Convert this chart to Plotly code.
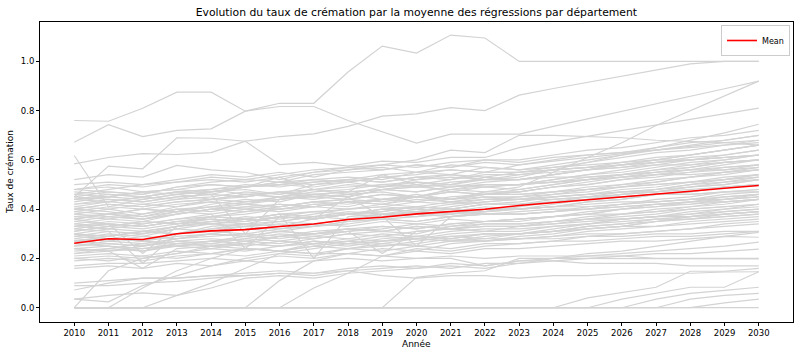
import plotly.graph_objects as go

years = [2010, 2011, 2012, 2013, 2014, 2015, 2016, 2017, 2018, 2019, 2020,
         2021, 2022, 2023, 2024, 2025, 2026, 2027, 2028, 2029, 2030]

mean_values = [.262, .28, .277, .30, .312, .317, .33, .34, .358, .367, .381,
               .39, .40, .415, .426, .438, .45, .461, .473, .485, .496]

# --- upper outliers ---
dep_a = [.76, .757, .81, .875, .875, .798, .817, .817, .76, .713, .668, .705, .705, .705, .736, .766, .797, .828, .859, .889, .92]
dep_b = [.672, .743, .695, .72, .726, .798, .83, .83, .957, 1.062, 1.034, 1.107, 1.095, 1.0, 1.0, 1.0, 1.0, 1.0, 1.0, 1.0, 1.0]
dep_c = [.584, .61, .626, .622, .63, .676, .695, .706, .736, .778, .787, .812, .80, .863, .89, .915, .94, .965, .99, 1.0, 1.0]
dep_e = [.40, .42, .41, .43, .44, .43, .45, .44, .46, .47, .45, .48, .47, .49, .55, .61, .67, .74, .80, .86, .92]
dep_g = [.44, .45, .47, .46, .48, .50, .49, .51, .52, .51, .53, .54, .52, .53, .56, .59, .62, .65, .68, .71, .745]
dep_h = [.45, .575, .564, .69, .688, .676, .581, .59, .575, .595, .59, .61, .61, .65, .673, .696, .719, .741, .764, .787, .81]
dep_i = [.618, .41, .44, .46, .47, .48, .46, .50, .51, .49, .52, .53, .52, .54, .56, .57, .59, .61, .62, .64, .66]
dep_j = [.52, .54, .53, .578, .56, .55, .52, .55, .57, .56, .58, .57, .60, .59, .61, .62, .63, .64, .65, .66, .67]
dep_k = [.48, .50, .49, .51, .53, .52, .54, .56, .57, .58, .60, .64, .63, .70, .70, .695, .69, .68, .675, .67, .66]
dep_l = [.50, .51, .50, .52, .54, .53, .55, .53, .56, .57, .55, .58, .57, .56, .57, .58, .59, .60, .60, .61, .62]

# --- main band ---
b01 = [.48, .47, .46, .49, .50, .49, .51, .52, .53, .52, .55, .56, .55, .58, .595, .61, .625, .64, .655, .67, .68]
b02 = [.47, .46, .45, .47, .48, .49, .50, .49, .51, .53, .52, .54, .53, .55, .56, .57, .58, .59, .60, .61, .62]
b03 = [.46, .48, .50, .51, .52, .51, .53, .55, .56, .58, .57, .59, .60, .60, .62, .64, .65, .67, .69, .70, .72]
b04 = [.45, .44, .43, .45, .46, .45, .47, .46, .47, .48, .49, .48, .50, .50, .51, .52, .53, .54, .54, .55, .56]
b05 = [.44, .43, .42, .44, .45, .47, .46, .48, .49, .50, .51, .50, .53, .52, .54, .56, .58, .60, .62, .64, .66]
b06 = [.43, .45, .44, .46, .44, .45, .47, .48, .46, .49, .50, .47, .49, .48, .50, .52, .54, .55, .57, .59, .60]
b07 = [.42, .43, .45, .44, .47, .49, .50, .51, .52, .54, .55, .54, .57, .56, .58, .60, .62, .64, .66, .68, .70]
b08 = [.41, .40, .38, .41, .43, .42, .44, .45, .44, .46, .45, .47, .46, .47, .49, .50, .52, .54, .55, .57, .58]
b09 = [.40, .42, .41, .43, .44, .46, .45, .47, .48, .50, .49, .51, .52, .52, .54, .56, .57, .59, .61, .62, .64]
b10 = [.40, .39, .37, .39, .41, .40, .42, .41, .43, .42, .44, .43, .45, .44, .45, .46, .47, .47, .48, .49, .50]
b11 = [.39, .41, .40, .42, .43, .42, .45, .46, .45, .48, .47, .49, .50, .50, .52, .54, .55, .57, .59, .60, .62]
b12 = [.38, .37, .36, .38, .40, .41, .40, .42, .43, .44, .43, .45, .46, .46, .47, .49, .50, .51, .53, .55, .56]
b13 = [.38, .40, .42, .41, .44, .46, .45, .48, .47, .54, .50, .52, .55, .55, .57, .59, .61, .63, .64, .66, .68]
b14 = [.37, .38, .36, .39, .38, .40, .39, .41, .40, .42, .41, .43, .42, .42, .43, .44, .45, .46, .46, .47, .48]
b15 = [.37, .36, .35, .38, .40, .42, .41, .43, .44, .46, .45, .48, .49, .50, .51, .53, .54, .56, .57, .59, .60]
b16 = [.36, .38, .37, .40, .39, .41, .42, .41, .43, .44, .46, .44, .45, .45, .46, .48, .49, .50, .51, .53, .54]
b17 = [.36, .34, .22, .33, .37, .36, .38, .37, .39, .38, .40, .39, .41, .40, .41, .42, .43, .43, .44, .45, .46]
b18 = [.35, .37, .36, .38, .40, .39, .41, .43, .42, .44, .45, .44, .47, .47, .49, .50, .52, .53, .55, .56, .58]
b19 = [.35, .34, .33, .35, .37, .36, .38, .39, .40, .41, .40, .42, .43, .44, .45, .46, .47, .48, .49, .51, .52]
b20 = [.34, .36, .38, .40, .41, .43, .44, .46, .45, .48, .50, .49, .51, .52, .54, .56, .58, .60, .62, .64, .66]
b21 = [.34, .33, .35, .34, .36, .35, .37, .36, .38, .37, .39, .38, .40, .40, .41, .41, .42, .43, .44, .44, .45]
b22 = [.33, .35, .34, .36, .38, .24, .37, .39, .38, .40, .41, .40, .42, .42, .43, .45, .46, .47, .49, .50, .52]
b23 = [.33, .32, .34, .36, .37, .39, .40, .41, .43, .42, .45, .44, .46, .47, .49, .51, .53, .54, .56, .58, .60]
b24 = [.32, .34, .33, .35, .34, .36, .35, .37, .36, .38, .37, .39, .38, .38, .39, .40, .41, .42, .42, .43, .44]
b25 = [.32, .31, .30, .33, .35, .34, .37, .36, .38, .40, .39, .41, .43, .44, .46, .47, .49, .51, .53, .54, .56]
b26 = [.31, .33, .32, .34, .35, .36, .38, .20, .37, .38, .39, .38, .40, .40, .41, .43, .44, .46, .47, .49, .50]
b27 = [.31, .33, .35, .34, .37, .38, .40, .42, .41, .44, .45, .47, .46, .48, .50, .52, .54, .56, .58, .60, .62]
b28 = [.30, .29, .31, .30, .32, .33, .32, .34, .33, .35, .34, .36, .35, .36, .37, .38, .38, .39, .40, .41, .42]
b29 = [.30, .32, .31, .33, .35, .37, .36, .38, .40, .41, .43, .42, .44, .45, .47, .48, .50, .52, .53, .55, .57]
b30 = [.29, .31, .18, .30, .33, .34, .35, .34, .36, .37, .38, .37, .39, .40, .41, .43, .44, .46, .47, .49, .50]
b31 = [.29, .28, .30, .32, .31, .33, .34, .33, .35, .36, .35, .37, .38, .38, .39, .40, .42, .43, .44, .46, .47]
b32 = [.28, .30, .29, .32, .34, .33, .35, .37, .38, .39, .41, .40, .42, .43, .45, .46, .48, .49, .51, .52, .54]
b33 = [.28, .27, .29, .28, .30, .29, .31, .30, .32, .31, .33, .32, .34, .34, .35, .36, .36, .37, .38, .39, .40]
b34 = [.27, .29, .31, .30, .32, .34, .33, .36, .45, .37, .39, .40, .39, .41, .43, .44, .46, .47, .49, .50, .52]
b35 = [.27, .26, .25, .28, .29, .30, .29, .31, .32, .33, .32, .34, .35, .36, .37, .38, .40, .41, .42, .44, .45]
b36 = [.26, .28, .27, .30, .31, .30, .32, .33, .34, .36, .35, .37, .38, .38, .39, .41, .42, .44, .45, .47, .48]
b37 = [.26, .25, .24, .26, .27, .28, .27, .29, .28, .30, .29, .31, .32, .32, .33, .34, .35, .36, .36, .37, .38]
b38 = [.25, .27, .26, .28, .30, .32, .31, .33, .35, .36, .37, .38, .39, .40, .42, .44, .46, .48, .50, .52, .54]
b39 = [.25, .26, .25, .27, .28, .27, .29, .30, .31, .22, .31, .32, .33, .33, .34, .36, .37, .38, .40, .41, .42]
b40 = [.24, .23, .25, .27, .26, .28, .30, .29, .31, .32, .34, .33, .35, .36, .37, .39, .40, .42, .43, .45, .46]
b41 = [.24, .25, .23, .25, .26, .25, .27, .26, .28, .27, .29, .28, .30, .30, .31, .32, .33, .33, .34, .35, .36]
b42 = [.23, .24, .26, .25, .27, .29, .28, .30, .31, .33, .32, .34, .35, .35, .37, .38, .40, .41, .43, .44, .46]
b43 = [.22, .23, .16, .24, .25, .26, .25, .27, .26, .28, .29, .28, .30, .30, .31, .32, .33, .35, .36, .37, .38]
b44 = [.22, .24, .23, .26, .27, .26, .29, .28, .30, .31, .30, .33, .34, .34, .35, .37, .38, .40, .41, .43, .44]
b45 = [.21, .22, .21, .23, .22, .24, .23, .25, .24, .26, .25, .27, .27, .28, .29, .30, .30, .31, .32, .33, .34]
b46 = [.20, .21, .20, .22, .24, .23, .25, .26, .25, .27, .28, .27, .29, .30, .31, .33, .34, .36, .37, .39, .40]
b47 = [.20, .19, .21, .20, .22, .21, .23, .22, .24, .23, .25, .24, .26, .26, .27, .27, .28, .29, .29, .30, .31]
b48 = [.19, .20, .19, .21, .22, .24, .23, .25, .27, .26, .28, .29, .30, .30, .32, .34, .36, .37, .39, .40, .42]
b49 = [.48, .49, .47, .48, .50, .49, .51, .50, .52, .51, .53, .52, .54, .54, .55, .56, .57, .58, .58, .59, .60]
b50 = [.45, .47, .46, .49, .51, .52, .51, .54, .55, .56, .58, .57, .59, .58, .60, .62, .63, .65, .67, .68, .70]
b51 = [.42, .44, .43, .45, .46, .30, .44, .46, .47, .48, .47, .49, .50, .50, .51, .52, .53, .55, .56, .57, .58]
b52 = [.39, .38, .40, .39, .41, .42, .41, .43, .44, .43, .45, .44, .46, .46, .47, .48, .49, .50, .51, .52, .53]
b53 = [.36, .38, .40, .39, .42, .44, .43, .46, .45, .48, .49, .50, .49, .50, .52, .54, .56, .58, .60, .62, .64]
b54 = [.33, .34, .33, .35, .36, .35, .37, .36, .38, .37, .25, .37, .38, .39, .40, .40, .41, .42, .43, .43, .44]
b55 = [.30, .29, .31, .33, .34, .35, .37, .36, .38, .39, .41, .40, .42, .42, .44, .45, .47, .48, .50, .51, .53]
b56 = [.27, .28, .27, .29, .30, .29, .31, .30, .32, .31, .33, .32, .33, .33, .34, .35, .36, .37, .37, .38, .39]
b57 = [.24, .23, .24, .25, .24, .26, .25, .27, .26, .27, .28, .27, .28, .28, .28, .29, .29, .30, .30, .31, .31]
b58 = [.44, .46, .45, .47, .48, .46, .47, .45, .46, .44, .45, .43, .44, .44, .44, .45, .45, .46, .46, .47, .47]
b59 = [.41, .43, .45, .47, .46, .49, .50, .52, .51, .53, .54, .56, .55, .55, .56, .57, .58, .59, .60, .61, .62]
b60 = [.46, .45, .47, .48, .47, .49, .53, .48, .50, .49, .51, .50, .52, .52, .53, .53, .54, .55, .56, .56, .57]

# --- lower outliers ---
l01 = [0, .15, .20, .22, .25, .27, .26, .28, .30, .29, .31, .32, .31, .33, .35, .36, .38, .39, .41, .42, .44]
l02 = [.035, .024, .09, .13, .17, .20, .22, .21, .24, .25, .26, .28, .27, .29, .30, .32, .33, .35, .36, .38, .39]
l03 = [.072, .10, .12, .12, .13, .14, .15, .14, .16, .17, .16, .18, .17, .19, .20, .21, .22, .23, .24, .25, .266]
l04 = [.09, .09, .10, .107, .12, .13, .14, .13, .15, .16, .17, .16, .18, .18, .19, .20, .21, .22, .22, .23, .238]
l05 = [0, 0, .08, .15, .20, .24, .23, .26, .27, .29, .28, .30, .31, .31, .33, .34, .36, .37, .38, .40, .41]
l06 = [0, 0, 0, .05, .10, .16, .22, .24, .26, .25, .27, .29, .28, .30, .31, .33, .34, .35, .37, .38, .39]
l07 = [0, 0, 0, 0, 0, 0, .11, .19, .22, .24, .23, .26, .27, .28, .29, .31, .32, .33, .35, .36, .37]
l08 = [0, 0, 0, 0, 0, 0, 0, .08, .14, .21, .24, .23, .25, .26, .27, .29, .30, .31, .32, .34, .35]
l09 = [0, 0, 0, 0, 0, 0, 0, 0, 0, 0, .123, .14, .15, .20, .20, .20, .20, .20, .20, .20, .198]
l10 = [.035, .05, .06, .05, .08, .12, .13, .12, .14, .15, .16, .17, .16, .18, .20, .22, .23, .25, .27, .29, .306]
l11 = [.16, .17, .16, .18, .17, .19, .18, .19, .20, .19, .20, .21, .20, .21, .21, .21, .21, .20, .20, .20, .20]
l12 = [.17, .18, .18, .19, .20, .19, .21, .20, .22, .21, .23, .22, .24, .24, .25, .26, .27, .27, .28, .29, .286]
l13 = [.30, .28, .27, .26, .25, .24, .23, .22, .22, .21, .20, .20, .17, .19, .19, .18, .18, .18, .17, .17, .17]
l14 = [.10, .11, .12, .12, .13, .13, .14, .14, .15, .13, .12, .13, .13, .12, .13, .13, .14, .14, .14, .145, .146]
m01 = [0, 0, 0, 0, 0, 0, 0, 0, 0, 0, 0, 0, 0, 0, 0, .04, .06, .083, .148, .148, .16]
m02 = [0, 0, 0, 0, 0, 0, 0, 0, 0, 0, 0, 0, 0, 0, 0, 0, .035, .058, .083, .083, .146]
m03 = [0, 0, 0, 0, 0, 0, 0, 0, 0, 0, 0, 0, 0, 0, 0, 0, 0, .035, .058, .07, .083]
m04 = [0, 0, 0, 0, 0, 0, 0, 0, 0, 0, 0, 0, 0, 0, 0, 0, 0, 0, .035, .05, .058]
m05 = [0, 0, 0, 0, 0, 0, 0, 0, 0, 0, 0, 0, 0, 0, 0, 0, 0, 0, 0, .02, .035]
m06 = [0, 0, 0, 0, 0, 0, 0, 0, 0, 0, 0, 0, 0, 0, 0, 0, 0, 0, 0, 0, 0]

departements = [
    dep_a, dep_b, dep_c, dep_e, dep_g, dep_h, dep_i, dep_j, dep_k, dep_l,
    b01, b02, b03, b04, b05, b06, b07, b08, b09, b10,
    b11, b12, b13, b14, b15, b16, b17, b18, b19, b20,
    b21, b22, b23, b24, b25, b26, b27, b28, b29, b30,
    b31, b32, b33, b34, b35, b36, b37, b38, b39, b40,
    b41, b42, b43, b44, b45, b46, b47, b48, b49, b50,
    b51, b52, b53, b54, b55, b56, b57, b58, b59, b60,
    l01, l02, l03, l04, l05, l06, l07, l08, l09, l10,
    l11, l12, l13, l14, m01, m02, m03, m04, m05, m06,
]

FONT = "DejaVu Sans"

fig = go.Figure()
for serie in departements:
    fig.add_trace(go.Scatter(
        x=years, y=serie, mode="lines",
        line=dict(color="#d3d3d3", width=1.2),
        showlegend=False, hoverinfo="skip",
    ))

fig.add_trace(go.Scatter(
    x=years, y=mean_values, mode="lines", name="Mean",
    line=dict(color="red", width=1.6),
))

fig.update_layout(
    width=800, height=356,
    margin=dict(l=40, r=7, t=22, b=34),
    paper_bgcolor="white", plot_bgcolor="white",
    font=dict(family=FONT, size=9, color="black"),
    title=dict(
        text="Evolution du taux de crémation par la moyenne des régressions par département",
        x=0.5205, xanchor="center", y=0.967, yanchor="middle",
        font=dict(family=FONT, size=10.8, color="black"),
    ),
    legend=dict(
        x=0.996, y=0.99, xanchor="right", yanchor="top",
        bgcolor="white", bordercolor="#cccccc", borderwidth=1,
        font=dict(family=FONT, size=8), itemwidth=30,
        tracegroupgap=0,
    ),
    annotations=[
        dict(text="Année", x=0.5, y=-0.073, xref="paper", yref="paper",
             xanchor="center", yanchor="middle", showarrow=False,
             font=dict(family=FONT, size=9)),
        dict(text="Taux de crémation", x=0, y=0.5, xref="paper", yref="paper",
             xanchor="center", yanchor="middle", xshift=-30, textangle=-90,
             showarrow=False, font=dict(family=FONT, size=9)),
    ],
)
fig.update_xaxes(
    range=[2009, 2031], tickmode="array", tickvals=years,
    ticktext=[str(y) for y in years],
    showgrid=False, zeroline=False, showline=True, mirror=True,
    linecolor="black", linewidth=1, ticks="outside", ticklen=3,
    tickcolor="black", tickfont=dict(family=FONT, size=8.5),
)
fig.update_yaxes(
    range=[-0.058, 1.16], tickmode="array",
    tickvals=[0.0, 0.2, 0.4, 0.6, 0.8, 1.0],
    ticktext=["0.0", "0.2", "0.4", "0.6", "0.8", "1.0"],
    showgrid=False, zeroline=False, showline=True, mirror=True,
    linecolor="black", linewidth=1, ticks="outside", ticklen=3,
    tickcolor="black", tickfont=dict(family=FONT, size=8.5),
)

fig.write_html(
    "out.html",
    config={"displayModeBar": False},
    post_script="document.body.style.margin='0';document.body.style.overflow='hidden';",
)
